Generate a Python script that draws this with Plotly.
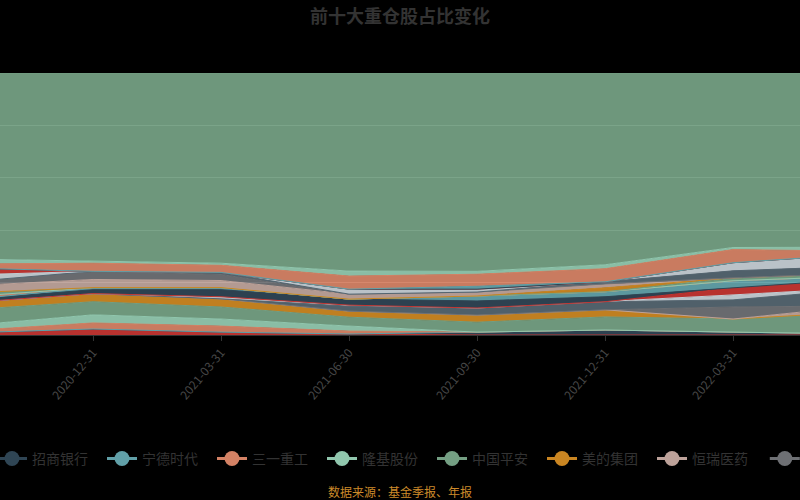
import plotly.graph_objects as go

dates = ["2020-09-30", "2020-12-31", "2021-03-31", "2021-06-30",
         "2021-09-30", "2021-12-31", "2022-03-31", "2022-06-30"]

names = ["贵州茅台", "招商银行", "宁德时代", "三一重工", "隆基股份", "中国平安",
         "美的集团", "恒瑞医药", "泸州老窖", "海康威视", "迈瑞医疗", "立讯精密",
         "万华化学", "东方财富", "药明康德", "比亚迪", "紫金矿业", "通威股份",
         "山西汾酒", "格力电器", "伊利股份", "中国中免", "阳光电源", "爱尔眼科",
         "片仔癀", "洋河股份", "兴业银行", "其他"]

palette = ["#c23531", "#2f4554", "#61a0a8", "#d48265", "#91c7ae", "#749f83",
           "#ca8622", "#bda29a", "#6e7074", "#546570", "#c4ccd3"]

# weights (%) per reporting date
s00 = [0.8, 2.3, 1.1, 0.4, 0.0, 0.0, 0.0, 0.0]
s01 = [0.0, 0.0, 0.0, 0.0, 1.1, 1.9, 1.1, 0.4]
s02 = [0.0, 0.0, 0.0, 0.0, 0.0, 0.0, 0.0, 0.0]
s03 = [0.8, 2.3, 2.3, 1.1, 0.0, 0.0, 0.0, 0.0]
s04 = [1.9, 3.1, 2.7, 1.9, 0.0, 0.0, 0.0, 0.0]
s05 = [6.1, 5.0, 4.6, 3.4, 3.8, 5.0, 5.0, 8.4]
s06 = [2.7, 3.1, 3.1, 2.3, 2.7, 2.7, 0.0, 0.0]
s07 = [0.0, 0.0, 0.0, 0.0, 0.0, 0.0, 0.0, 2.3]
s08 = [0.0, 0.0, 0.0, 0.0, 0.0, 0.0, 4.6, 0.0]
s09 = [0.0, 0.0, 0.0, 1.9, 2.7, 3.1, 2.7, 6.5]
s10 = [0.0, 0.0, 0.8, 0.4, 0.0, 0.0, 1.9, 0.4]
s11 = [0.0, 0.0, 0.0, 0.0, 0.0, 0.0, 2.7, 3.4]
s12 = [1.1, 1.5, 2.7, 2.3, 2.7, 1.9, 0.0, 0.0]
s13 = [0.0, 0.8, 0.8, 0.0, 1.9, 1.9, 2.7, 1.1]
s14 = [1.1, 0.0, 0.0, 0.0, 0.0, 0.0, 0.0, 0.0]
s15 = [0.0, 0.0, 0.0, 0.0, 0.0, 0.0, 0.0, 0.0]
s16 = [1.5, 0.0, 0.0, 0.0, 0.0, 0.0, 1.1, 1.1]
s17 = [0.0, 0.0, 0.0, 0.0, 0.0, 1.5, 0.0, 0.0]
s18 = [2.7, 3.1, 2.7, 1.9, 1.5, 1.5, 0.0, 0.0]
s19 = [1.5, 3.1, 2.3, 0.0, 0.0, 0.0, 0.0, 0.0]
s20 = [0.0, 0.0, 0.8, 0.0, 0.0, 0.8, 2.7, 2.7]
s21 = [2.7, 0.0, 0.0, 1.9, 1.1, 0.0, 3.1, 4.6]
s22 = [2.7, 0.0, 0.0, 0.0, 0.0, 0.0, 0.0, 0.0]
s23 = [0.0, 0.0, 0.0, 0.0, 0.0, 0.0, 0.0, 0.0]
s24 = [0.0, 0.0, 0.0, 0.0, 1.1, 0.0, 0.0, 0.0]
s25 = [1.5, 3.1, 2.7, 5.0, 4.6, 5.0, 5.0, 1.1]
s26 = [1.9, 0.8, 0.8, 1.9, 1.1, 1.5, 0.8, 1.5]
s27 = [71.0, 71.8, 72.6, 75.6, 75.7, 73.2, 66.6, 66.5]

series = [s00, s01, s02, s03, s04, s05, s06, s07, s08, s09, s10, s11, s12, s13,
          s14, s15, s16, s17, s18, s19, s20, s21, s22, s23, s24, s25, s26, s27]

title_text = "前十大重仓股占比变化"
source_text = "数据来源：基金季报、年报"

FONT = "Noto Sans CJK SC"


def rgba(hex_color, a):
    h = hex_color.lstrip("#")
    r, g, b = int(h[0:2], 16), int(h[2:4], 16), int(h[4:6], 16)
    return f"rgba({r},{g},{b},{a})"


fig = go.Figure()
for k, (nm, vals) in enumerate(zip(names, series)):
    c = palette[k % len(palette)]
    fig.add_trace(go.Scatter(
        x=dates, y=vals, name=nm, stackgroup="one", mode="lines",
        line=dict(color=c, width=1, shape="linear"),
        fillcolor=rgba(c, 0.95), showlegend=False, hoverinfo="x+y+name"))

# legend entries (line + circle icon)
for k in range(1, 9):
    c = palette[k % len(palette)]
    fig.add_trace(go.Scatter(
        x=[None], y=[None], name=names[k], mode="lines+markers",
        line=dict(color=c, width=3),
        marker=dict(color=c, size=15),
        legend="legend" if k < 8 else "legend2"))

legend_common = dict(orientation="h", yanchor="middle", y=-0.473,
                     xanchor="left", traceorder="normal",
                     font=dict(family=FONT, size=14, color="#333333"),
                     bgcolor="rgba(0,0,0,0)", entrywidth=65, itemwidth=30)

fig.update_layout(
    width=800, height=500,
    paper_bgcolor="#000000", plot_bgcolor="#000000",
    margin=dict(l=0, r=0, t=73, b=165, autoexpand=False),
    title=dict(text=title_text, x=0.5, xanchor="center", y=1 - 17 / 500,
               yanchor="middle", yref="container",
               font=dict(family=FONT, size=18, color="#333333", weight="bold")),
    xaxis=dict(type="category", range=[0.273, 6.523], tickangle=-50,
               tickfont=dict(family=FONT, size=12, color="#474747"),
               ticks="outside", ticklen=5, tickcolor="#333333",
               showline=True, linecolor="#333333", linewidth=1,
               showgrid=False, zeroline=False),
    yaxis=dict(range=[0, 100], dtick=20, showticklabels=False,
               gridcolor="#FFFFFF", gridwidth=1, zeroline=False, showline=False),
    legend=dict(x=-0.01, **legend_common),
    legend2=dict(x=0.956, **legend_common),
    showlegend=True,
    annotations=[dict(text=source_text, xref="paper", yref="paper", x=0.5, y=-0.599,
                      showarrow=False, xanchor="center", yanchor="middle",
                      font=dict(family=FONT, size=12, color="#cc8a2a"))],
)

fig.write_html("out.html",
               config={"displayModeBar": False},
               post_script="document.body.style.margin='0';document.body.style.background='#000';")
